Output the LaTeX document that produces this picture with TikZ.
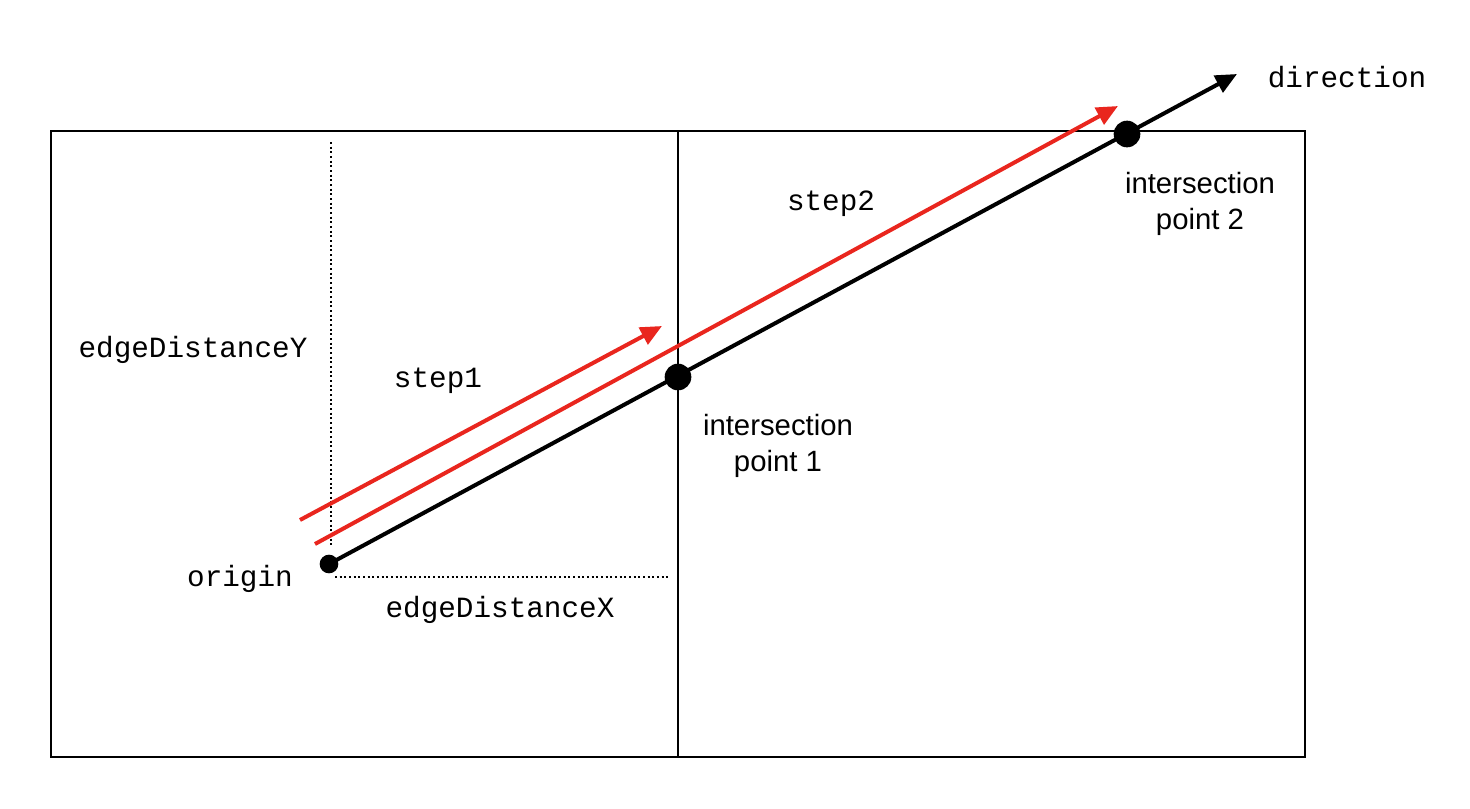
\documentclass[tikz,border=0pt]{standalone}
\usepackage{fontspec}
\setmainfont{Liberation Sans}
\setmonofont{Liberation Mono}
\usetikzlibrary{arrows.meta}

\tikzset{
  ray/.style={line width=3pt},
  redray/.style={line width=3pt,color={rgb,255:red,233;green,38;blue,30}},
  tip/.style={-{Triangle[length=16pt,width=14pt]}},
  guide/.style={line width=1.5pt,dotted},
  dot/.style={circle,fill=black,inner sep=0pt,minimum size=#1},
  codelabel/.style={font=\ttfamily\fontsize{22}{27}\selectfont,inner sep=0.75pt},
  textlabel/.style={font=\fontsize{22}{27}\selectfont,align=center,inner sep=0.75pt}
}

\begin{document}
\begin{tikzpicture}[x=0.75pt,y=0.75pt,yscale=-1,xscale=1]
\useasboundingbox (0,0) rectangle (1470,808);

%Grid cells
\draw [line width=1.5pt] (51,131) rectangle (1305,757) ;
\draw [line width=1.5pt] (678,131) -- (678,757) ;

%Dotted edge distances
\coordinate (ytop) at (331,142) ;
\coordinate (ybot) at (331,548) ;
\coordinate (xleft) at (335,577) ;
\coordinate (xright) at (670,577) ;
\draw [guide] (ytop) -- (ybot) ;
\draw [guide] (xleft) -- (xright) ;

%Points on the ray
\node [dot=14] (origin) at (329,564) {} ;
\node [dot=20] (hit1) at (678,377) {} ;
\node [dot=20] (hit2) at (1127,134) {} ;
\coordinate (dirtip) at (1237,74) ;

%Ray
\draw [ray,tip] (origin.center) -- (dirtip) ;

%Steps
\coordinate (s1start) at (300,520) ;
\coordinate (s1end) at (662,326) ;
\coordinate (s2start) at (315,544) ;
\coordinate (s2end) at (1118,106) ;
\draw [redray,tip] (s1start) -- (s1end) ;
\draw [redray,tip] (s2start) -- (s2end) ;

% Text Node
\node [codelabel] (dirlabel) at (1347,77) {direction};
% Text Node
\node [codelabel] (ylabel) at (193,350) {edgeDistanceY};
% Text Node
\node [codelabel] (s1label) at (438,381) {step1};
% Text Node
\node [codelabel] (s2label) at (831,204) {step2};
% Text Node
\node [codelabel] (originlabel) at (240,579) {origin};
% Text Node
\node [codelabel] (xlabel) at (500,610) {edgeDistanceX};
% Text Node
\node [textlabel] (hit1label) at (778,446) {intersection\\point 1};
% Text Node
\node [textlabel] (hit2label) at (1200,204) {intersection\\point 2};

\end{tikzpicture}
\end{document}
